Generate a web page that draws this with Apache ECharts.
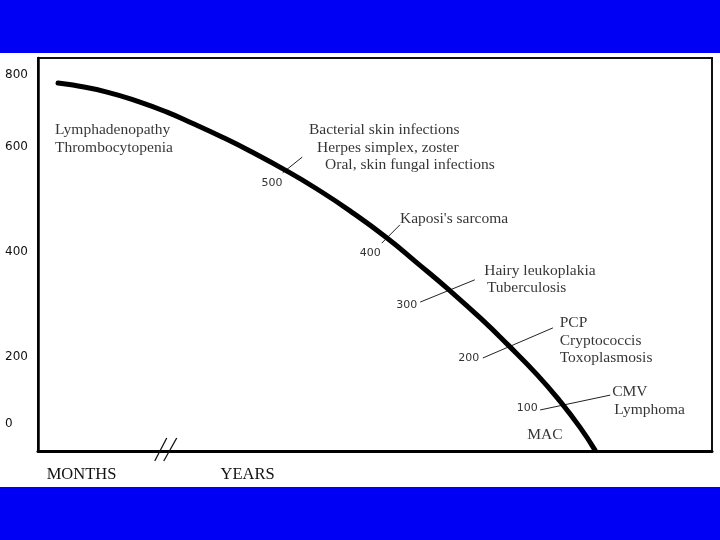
<!DOCTYPE html>
<html>
<head>
<meta charset="utf-8">
<script src="https://cdn.jsdelivr.net/npm/echarts@6/dist/echarts.min.js"></script>
<style>html,body{margin:0;padding:0;background:#fff}#c{width:720px;height:540px}</style>
</head>
<body>
<div id="c"></div>
<script>
// Curve: time (arbitrary units) vs CD4 count (schematic)
const curveX = [2.97, 5.19, 10.24, 15.13, 19.14, 22.55, 27.45, 31.45, 36.94, 41.39, 46.29, 51.78, 56.23, 60.68, 65.73, 69.73, 74.04, 77.45, 80.42, 82.64];
const curveY = [783, 778, 762, 739, 716, 693, 658, 627, 581, 540, 490, 428, 371, 313, 243, 183, 115, 54, -6, -58];

// Y tick labels and where they sit on the scale
const yTickLabels = ['0', '200', '400', '600', '800'];
const yTickAt = [2, 155, 396, 636, 801];

// X axis labels
const xTickLabels = ['MONTHS', 'YEARS'];
const xTickAt = [6.45, 31.1];
const axisBreakAt = 19.1;

// CD4 marks along the curve
const cd4Marks = ['500', '400', '300', '200', '100'];
const markLineFrom = [[39.2, 613], [53.7, 458], [64.8, 332], [76.4, 222], [84.9, 68]];
const markLineTo = [[36.3, 577], [51.0, 416], [56.7, 281], [66.0, 153], [74.5, 34]];
const markLabelAt = [[34.7, 554], [49.3, 393], [54.7, 274], [63.9, 153], [72.6, 38]];

// Opportunistic conditions
const conditions = ['Lymphadenopathy', 'Thrombocytopenia', 'Bacterial skin infections', 'Herpes simplex, zoster', 'Oral, skin fungal infections', "Kaposi's sarcoma", 'Hairy leukoplakia', 'Tuberculosis', 'PCP', 'Cryptococcis', 'Toxoplasmosis', 'CMV', 'Lymphoma', 'MAC'];
const conditionAt = [[2.52, 675], [2.52, 634], [40.2, 675], [41.4, 634], [42.6, 595], [53.7, 471], [66.2, 352], [66.6, 313], [77.4, 233], [77.4, 192], [77.4, 153], [85.2, 75], [85.5, 34], [72.6, -23]];

const chart = echarts.init(document.getElementById('c'), null, {renderer: 'canvas'});
const serif = 'Liberation Serif';
const sans = 'DejaVu Sans';

chart.setOption({
  animation: false,
  backgroundColor: '#ffffff',
  graphic: [
    {type: 'rect', left: 0, top: 0, shape: {width: 720, height: 53}, style: {fill: '#0000f5'}, z: 100},
    {type: 'rect', left: 0, top: 487, shape: {width: 720, height: 53}, style: {fill: '#0000f5'}, z: 100}
  ],
  grid: {left: 38, right: 8, top: 58, bottom: 89, show: true, borderColor: '#111', borderWidth: 2, backgroundColor: '#fff'},
  xAxis: {
    type: 'value', min: 0, max: 100,
    axisLine: {show: true, onZero: false, lineStyle: {color: '#000', width: 3}},
    axisTick: {show: false},
    splitLine: {show: false},
    axisLabel: {
      customValues: xTickAt,
      formatter: v => xTickLabels[xTickAt.indexOf(v)],
      fontFamily: serif, fontSize: 16.5, color: '#111', margin: 15
    }
  },
  yAxis: {
    type: 'value', min: -60, max: 840,
    axisLine: {show: true, onZero: false, lineStyle: {color: '#000', width: 2.5}},
    axisTick: {show: false},
    splitLine: {show: false},
    axisLabel: {
      customValues: yTickAt,
      formatter: v => yTickLabels[yTickAt.indexOf(v)],
      fontFamily: sans, fontSize: 12, color: '#111', align: 'left', margin: 33
    }
  },
  series: [
    {
      type: 'line', name: 'CD4',
      data: curveX.map((x, i) => [x, curveY[i]]),
      smooth: 0.5, symbol: 'none',
      lineStyle: {color: '#000', width: 5, cap: 'round'}
    },
    {
      type: 'custom', name: 'marks',
      data: cd4Marks.map((m, i) => [markLineFrom[i][0], markLineFrom[i][1], markLineTo[i][0], markLineTo[i][1], markLabelAt[i][0], markLabelAt[i][1], i]),
      renderItem: (params, api) => {
        const a = api.coord([api.value(0), api.value(1)]);
        const b = api.coord([api.value(2), api.value(3)]);
        const t = api.coord([api.value(4), api.value(5)]);
        return {type: 'group', children: [
          {type: 'line', shape: {x1: a[0], y1: a[1], x2: b[0], y2: b[1]}, style: {stroke: '#222', lineWidth: 1}},
          {type: 'text', x: t[0], y: t[1], style: {text: cd4Marks[api.value(6)], fontFamily: sans, fontSize: 11, fill: '#333', align: 'center', verticalAlign: 'middle'}}
        ]};
      },
      z: 3
    },
    {
      type: 'scatter', name: 'conditions', symbolSize: 0,
      data: conditions.map((c, i) => ({value: conditionAt[i], name: c})),
      label: {show: true, position: 'right', distance: 0, formatter: p => p.name, fontFamily: serif, fontSize: 15.5, color: '#000'},
      z: 4
    },
    {
      type: 'custom', name: 'break',
      data: [[axisBreakAt, -60]],
      renderItem: (params, api) => {
        const p = api.coord([api.value(0), api.value(1)]);
        return {type: 'group', children: [
          {type: 'line', shape: {x1: p[0] - 12, y1: p[1] + 10, x2: p[0], y2: p[1] - 13}, style: {stroke: '#111', lineWidth: 1.3}},
          {type: 'line', shape: {x1: p[0] - 3, y1: p[1] + 10, x2: p[0] + 10, y2: p[1] - 13}, style: {stroke: '#111', lineWidth: 1.3}}
        ]};
      },
      z: 5
    }
  ]
});
</script>
</body>
</html>
